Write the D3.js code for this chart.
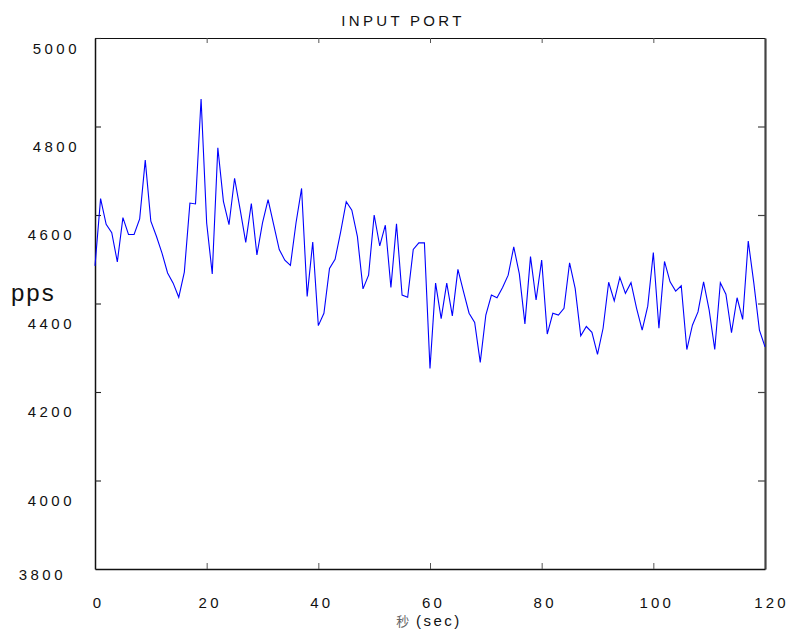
<!DOCTYPE html>
<html>
<head>
<meta charset="utf-8">
<script src="https://cdn.jsdelivr.net/npm/d3@7"></script>
<style>
  html, body { margin: 0; padding: 0; background: #fff; }
  svg text { font-family: "Liberation Sans", Arial, sans-serif; fill: #111; }
</style>
</head>
<body>
<svg id="chart" width="788" height="629"></svg>
<script>
// Input port rate, one sample per second
const seconds = d3.range(0, 121);
const pps = [
  4485, 4637, 4579, 4560, 4494, 4594, 4556, 4556, 4591, 4724,
  4586, 4552, 4514, 4469, 4446, 4414, 4471, 4627, 4625, 4862,
  4582, 4467, 4752, 4631, 4578, 4683, 4612, 4538, 4626, 4510,
  4582, 4635, 4578, 4522, 4498, 4486, 4582, 4660, 4416, 4539,
  4350, 4378, 4479, 4500, 4562, 4630, 4611, 4551, 4433, 4464,
  4600, 4530, 4577, 4436, 4580, 4419, 4414, 4522, 4537, 4537,
  4253, 4446, 4366, 4446, 4372, 4477, 4427, 4378, 4357, 4267,
  4374, 4419, 4413, 4436, 4464, 4528, 4467, 4354, 4506, 4408,
  4498, 4331, 4378, 4374, 4389, 4492, 4434, 4327, 4348, 4335,
  4285, 4344, 4448, 4406, 4459, 4423, 4447, 4389, 4340, 4394,
  4515, 4344, 4495, 4449, 4428, 4440, 4296, 4351, 4381, 4449,
  4385, 4296, 4447, 4421, 4334, 4413, 4364, 4541, 4446, 4340,
  4302
];
const xTicks = [0, 20, 40, 60, 80, 100, 120];
const yTicks = [3800, 4000, 4200, 4400, 4600, 4800, 5000];
const titleText = "INPUT PORT";
const yLabel = "pps";
const xLabelCJK = "秒";
const xLabelLatin = " (sec)";

const W = 788, H = 629;
const m = { top: 38, right: 23, bottom: 60, left: 95 };
const iw = W - m.left - m.right, ih = H - m.top - m.bottom;

const svg = d3.select("#chart");
const g = svg.append("g").attr("transform", `translate(${m.left},${m.top})`);

const x = d3.scaleLinear().domain([0, 120]).range([0, iw]);
const y = d3.scaleLinear().domain([3800, 5000]).range([ih, 0]);
const fmt = d3.format("d");
const [yMin, yMax] = y.domain();

// Frame: top and right edges with inward ticks
const inner = xTicks.slice(1, -1);
const innerY = yTicks.slice(1, -1);

g.append("g")
  .call(d3.axisTop(x).tickValues(inner).tickSize(-5).tickSizeOuter(0).tickFormat(""))
  .call(s => s.select(".domain").attr("stroke", "#111").attr("stroke-width", 1.2))
  .call(s => s.selectAll(".tick line").attr("stroke", "#555"));

g.append("g")
  .attr("transform", `translate(${iw},0)`)
  .call(d3.axisRight(y).tickValues(innerY).tickSize(-7).tickSizeOuter(0).tickFormat(""))
  .call(s => s.select(".domain").attr("stroke", "#444").attr("stroke-width", 2.2))
  .call(s => s.selectAll(".tick line").attr("stroke", "#444").attr("stroke-width", 1.2));

// Bottom axis
const xAxis = g.append("g")
  .attr("transform", `translate(0,${ih})`)
  .call(d3.axisBottom(x).tickValues(xTicks).tickFormat(fmt).tickSize(-6).tickSizeOuter(0).tickPadding(28))
  .call(s => s.select(".domain").attr("stroke", "#111").attr("stroke-width", 1.5));
xAxis.selectAll(".tick line").attr("stroke", "#555")
  .attr("opacity", d => (d === 0 || d === 120) ? 0 : 1);
xAxis.selectAll(".tick text")
  .attr("font-size", 15).attr("letter-spacing", "3.2px").attr("fill", "#111")
  .attr("dx", d => d === 120 ? 6 : 3);

// Left axis, labels sit a little below their ticks
const labelDrop = d => d === yMax ? 11 : (d === yMin ? 6 : 20);
const yAxis = g.append("g")
  .call(d3.axisLeft(y).tickValues(yTicks).tickFormat(fmt).tickSize(-6).tickSizeOuter(0).tickPadding(17))
  .call(s => s.select(".domain").attr("stroke", "#111").attr("stroke-width", 1.5));
yAxis.selectAll(".tick line").attr("stroke", "#222").attr("stroke-width", 1.1)
  .attr("opacity", d => (d === yMin) ? 0 : 1);
yAxis.selectAll(".tick text")
  .attr("font-size", 15).attr("letter-spacing", "3.5px").attr("fill", "#111")
  .attr("dy", "0.32em")
  .attr("y", labelDrop)
  .attr("x", d => d === yMin ? -29 : (d >= 4800 ? -15 : -20));

// Series line
const line = d3.line().x((d, i) => x(seconds[i])).y(d => y(d));
g.append("path")
  .datum(pps)
  .attr("fill", "none")
  .attr("stroke", "#0000ff")
  .attr("stroke-width", 1.1)
  .attr("stroke-linejoin", "miter")
  .attr("d", line);

// Titles
svg.append("text")
  .attr("x", 403).attr("y", 26)
  .attr("text-anchor", "middle")
  .attr("font-size", 15).attr("letter-spacing", "3.3px")
  .text(titleText);

svg.append("text")
  .attr("x", 11).attr("y", 301)
  .attr("font-size", 24).attr("letter-spacing", "2px")
  .text(yLabel);

const xt = svg.append("text")
  .attr("x", 429).attr("y", 626)
  .attr("text-anchor", "middle")
  .attr("font-size", 15);
xt.append("tspan")
  .attr("font-family", "'Noto Sans CJK SC', sans-serif")
  .attr("font-size", 13).attr("fill", "#666")
  .text(xLabelCJK);
xt.append("tspan")
  .attr("letter-spacing", "2.5px")
  .text(xLabelLatin);
</script>
</body>
</html>
